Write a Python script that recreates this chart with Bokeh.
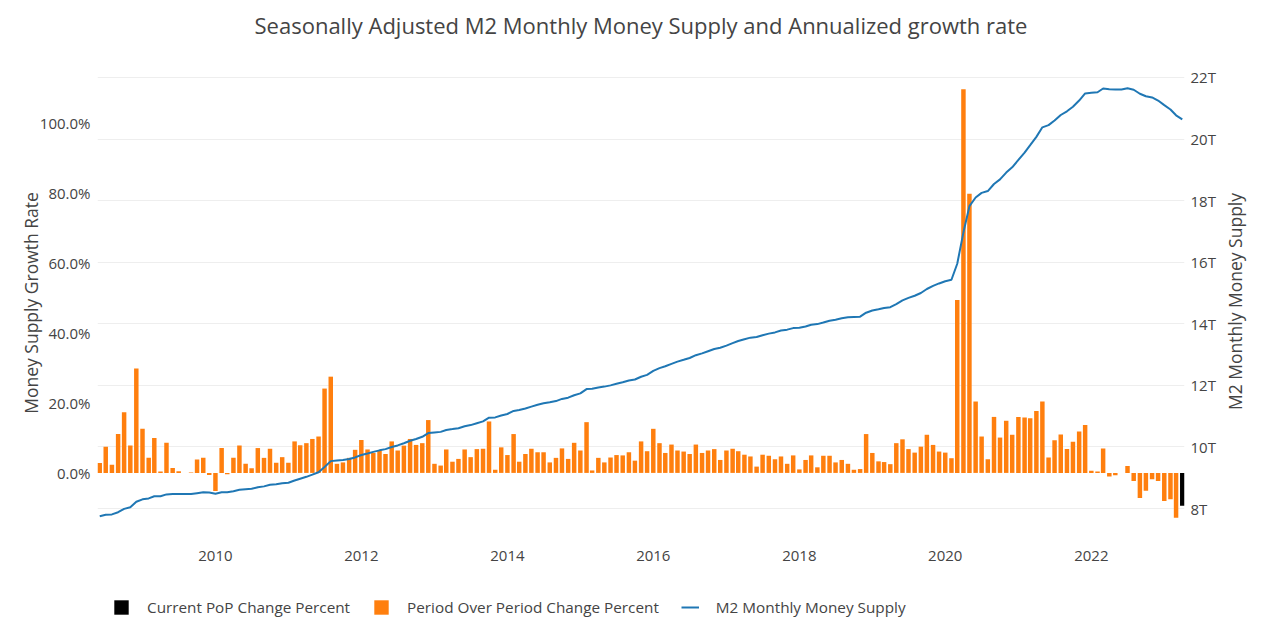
import pandas as pd
from bokeh.plotting import figure
from bokeh.layouts import column
from bokeh.models import (Range1d, LinearAxis, FixedTicker, PrintfTickFormatter,
                          DatetimeTickFormatter, Legend, LegendItem, Grid, Title)
from bokeh.embed import file_html
from bokeh.resources import INLINE

# ---------------- data ----------------
start_month = "2008-06-01"

# annualized month-over-month growth (%), Jun 2008 .. Mar 2023
growth_pct = [
    2.8, 7.5, 2.3, 11.1, 17.3, 7.8, 29.8, 12.6, 4.3, 10.0,
    0.4, 8.6, 1.4, 0.5, 0.0, 0.1, 3.8, 4.3, -0.6, -5.2,
    7.1, -0.4, 4.3, 7.8, 2.6, 1.3, 7.1, 4.3, 6.9, 2.9,
    4.5, 2.9, 9.0, 7.9, 8.5, 9.7, 10.4, 24.1, 27.5, 2.6,
    3.0, 4.3, 6.6, 9.4, 6.7, 5.7, 6.4, 5.4, 9.0, 6.4,
    7.8, 9.7, 8.0, 8.5, 15.1, 2.6, 2.1, 6.7, 3.2, 4.0,
    6.7, 4.5, 6.8, 6.9, 14.7, 0.9, 7.3, 5.1, 11.1, 3.2,
    5.4, 6.9, 5.9, 5.9, 3.0, 4.3, 7.0, 4.0, 8.6, 6.4,
    14.5, 0.7, 4.3, 3.0, 4.4, 5.1, 5.0, 5.9, 3.5, 9.0,
    6.2, 12.6, 8.5, 5.7, 8.1, 6.4, 6.1, 5.4, 8.1, 5.7,
    6.4, 6.8, 3.7, 6.4, 6.9, 6.2, 5.2, 4.7, 1.8, 5.2,
    4.9, 3.9, 4.7, 2.6, 5.0, 1.0, 3.7, 5.0, 1.6, 4.9,
    4.9, 3.0, 3.7, 2.6, 0.9, 1.1, 11.1, 5.7, 3.3, 3.1,
    2.5, 8.5, 9.6, 6.8, 5.8, 7.5, 10.9, 8.0, 6.1, 5.8,
    4.2, 49.4, 109.6, 79.8, 20.4, 10.4, 3.9, 16.0, 10.1, 14.9,
    10.9, 16.0, 15.8, 15.6, 17.7, 20.4, 4.4, 9.3, 11.0, 6.8,
    8.9, 11.8, 13.7, 0.6, 0.4, 7.0, -1.0, -0.7, 0.0, 2.0,
    -2.3, -7.2, -5.1, -1.8, -2.3, -8.0, -7.5, -12.8,
]

# current period (Apr 2023)
current_growth_pct = [-9.4]

# M2 money supply (trillions USD), Jun 2008 .. Apr 2023
m2_trillions = [
    7.75, 7.80, 7.81, 7.88, 7.99, 8.04, 8.22, 8.30, 8.33, 8.40,
    8.40, 8.46, 8.47, 8.47, 8.47, 8.47, 8.50, 8.53, 8.52, 8.48,
    8.53, 8.53, 8.56, 8.61, 8.63, 8.64, 8.69, 8.72, 8.77, 8.79,
    8.82, 8.84, 8.91, 8.97, 9.03, 9.10, 9.18, 9.35, 9.54, 9.56,
    9.58, 9.61, 9.66, 9.74, 9.79, 9.84, 9.89, 9.93, 10.00, 10.05,
    10.12, 10.20, 10.26, 10.33, 10.45, 10.47, 10.49, 10.55, 10.58, 10.61,
    10.67, 10.71, 10.77, 10.83, 10.95, 10.96, 11.02, 11.07, 11.17, 11.20,
    11.25, 11.31, 11.37, 11.42, 11.45, 11.49, 11.56, 11.60, 11.68, 11.74,
    11.88, 11.89, 11.93, 11.96, 12.00, 12.05, 12.10, 12.16, 12.19, 12.28,
    12.34, 12.47, 12.56, 12.62, 12.70, 12.77, 12.83, 12.89, 12.98, 13.04,
    13.11, 13.18, 13.22, 13.29, 13.37, 13.44, 13.50, 13.55, 13.57, 13.63,
    13.68, 13.72, 13.78, 13.81, 13.86, 13.87, 13.91, 13.97, 13.99, 14.04,
    14.10, 14.13, 14.18, 14.21, 14.22, 14.23, 14.36, 14.43, 14.47, 14.51,
    14.54, 14.64, 14.76, 14.84, 14.91, 15.00, 15.13, 15.23, 15.31, 15.38,
    15.43, 15.95, 16.97, 17.82, 18.10, 18.25, 18.31, 18.54, 18.69, 18.91,
    19.08, 19.32, 19.56, 19.80, 20.07, 20.38, 20.45, 20.60, 20.78, 20.90,
    21.05, 21.25, 21.48, 21.50, 21.52, 21.64, 21.62, 21.61, 21.61, 21.65,
    21.60, 21.47, 21.39, 21.35, 21.25, 21.10, 20.96, 20.77, 20.64,
]

year_ticks = [2010, 2012, 2014, 2016, 2018, 2020, 2022]
pct_ticks = [0, 20, 40, 60, 80, 100]
m2_ticks = [8, 10, 12, 14, 16, 18, 20, 22]

title_text = "Seasonally Adjusted M2 Monthly Money Supply and Annualized growth rate"
left_label = "Money Supply Growth Rate"
right_label = "M2 Monthly Money Supply"
legend_labels = ["Current PoP Change Percent", "Period Over Period Change Percent",
                 "M2 Monthly Money Supply"]

# ---------------- styling ----------------
FONT = "Open Sans"
TXT = "#444444"
ORANGE = "#ff7f0e"
BLUE = "#1f77b4"
DAY = 86400000.0

months = pd.date_range(start_month, periods=len(m2_trillions), freq="MS")
ms = [float(t.value // 10**6) for t in months]
bar_w = 22.4 * DAY
tick_ms = [float(pd.Timestamp(f"{y}-01-01").value // 10**6) for y in year_ticks]

p = figure(width=1280, height=580, output_backend="svg", toolbar_location=None,
           x_axis_type="datetime",
           x_range=Range1d(ms[0] - 11.2 * DAY, ms[-1] + 11.2 * DAY),
           y_range=Range1d(-19.6, 116.7),
           min_border_left=97, min_border_right=96,
           min_border_top=64, min_border_bottom=39)
p.extra_y_ranges = {"m2": Range1d(6.93, 22.42)}
p.outline_line_color = None
p.background_fill_color = "white"


def plain_axis(ax, size="15px", standoff=7):
    ax.axis_line_color = None
    ax.major_tick_line_color = None
    ax.minor_tick_line_color = None
    ax.major_tick_out = 0
    ax.major_tick_in = 0
    ax.minor_tick_out = 0
    ax.minor_tick_in = 0
    ax.major_label_text_font = FONT
    ax.major_label_text_font_size = size
    ax.major_label_text_color = TXT
    ax.major_label_standoff = standoff


# x axis (configure before any spacer axis is added)
xa = p.below[0]
xa.ticker = FixedTicker(ticks=tick_ms)
xa.formatter = DatetimeTickFormatter(years="%Y", months="%Y", days="%Y", hours="%Y")
plain_axis(xa, standoff=9)

# left axis
ya = p.left[0]
ya.ticker = FixedTicker(ticks=pct_ticks)
ya.formatter = PrintfTickFormatter(format="%.1f%%")
plain_axis(ya, standoff=7)
ya.axis_label = left_label
ya.axis_label_text_font = FONT
ya.axis_label_text_font_size = "17.5px"
ya.axis_label_text_font_style = "normal"
ya.axis_label_text_color = TXT
ya.axis_label_standoff = -6

# spacer next to the frame (one unlabeled, invisible tick gives it a size),
# then the title further out
sp_tick = tick_ms[3]
sp = LinearAxis(ticker=FixedTicker(ticks=[sp_tick]),
                major_label_overrides={sp_tick: ""})
sp.axis_line_color = None
sp.major_tick_line_color = None
sp.minor_tick_line_color = None
sp.major_tick_out = 25
sp.major_tick_in = 0
sp.minor_tick_out = 0
sp.minor_tick_in = 0
sp.major_label_standoff = 0
sp.major_label_text_font_size = "1px"
p.add_layout(sp, "above")

p.title.text = ""
main_title = Title(text=title_text, align="center", vertical_align="bottom",
                   text_font=FONT, text_font_size="22px", text_font_style="normal",
                   text_color=TXT, standoff=0)
p.add_layout(main_title, "above")

# right axis (ticks)
ra = LinearAxis(y_range_name="m2", ticker=FixedTicker(ticks=m2_ticks),
                formatter=PrintfTickFormatter(format="%dT"))
plain_axis(ra, standoff=6)
p.add_layout(ra, "right")

# right axis title, drawn as a rotated label reading bottom-to-top
right_title_pos = 11.2
rt = LinearAxis(y_range_name="m2", ticker=FixedTicker(ticks=[right_title_pos]),
                major_label_overrides={right_title_pos: right_label},
                major_label_orientation=1.5707963267948966)
plain_axis(rt, size="17.5px", standoff=17)
p.add_layout(rt, "right")

# grids: only the right-axis horizontal grid
p.xgrid.visible = False
p.ygrid.visible = False
p.add_layout(Grid(dimension=1, ticker=ra.ticker, y_range_name="m2",
                  grid_line_color="#eeeeee", grid_line_width=1))

# bars
p.vbar(x=ms[:-1], top=growth_pct, bottom=0, width=bar_w,
       fill_color=ORANGE, line_color=None)
p.vbar(x=[ms[-1]], top=current_growth_pct, bottom=0, width=bar_w,
       fill_color="black", line_color=None)

# line
p.line(ms, m2_trillions, y_range_name="m2", line_color=BLUE, line_width=2)

# ---------------- legend strip ----------------
lg = figure(width=1280, height=61, output_backend="svg", toolbar_location=None,
            x_range=Range1d(0, 1), y_range=Range1d(0, 1),
            x_axis_type=None, y_axis_type=None, min_border=0)
lg.outline_line_color = None
lg.xgrid.visible = False
lg.ygrid.visible = False
# zero-size proxies; only their legend glyphs are seen
k_blk = lg.vbar(x=[0.5], top=[0], bottom=0, width=0.0, fill_color="black", line_color=None)
k_org = lg.vbar(x=[0.5], top=[0], bottom=0, width=0.0, fill_color=ORANGE, line_color=None)
k_line = lg.line(x=[0.5, 0.5], y=[0.5, 0.5], line_color=BLUE, line_width=2)

legend = Legend(items=[LegendItem(label=legend_labels[0], renderers=[k_blk]),
                       LegendItem(label=legend_labels[1], renderers=[k_org]),
                       LegendItem(label=legend_labels[2], renderers=[k_line])],
                orientation="horizontal", location=(15, 24),
                glyph_width=18, glyph_height=18, label_standoff=17, spacing=22,
                padding=0, margin=0, border_line_color=None,
                background_fill_alpha=0,
                label_text_font=FONT, label_text_font_size="15.3px",
                label_text_color=TXT)
lg.add_layout(legend)

layout = column(p, lg, spacing=0)
open("out.html", "w").write(file_html(layout, INLINE))
